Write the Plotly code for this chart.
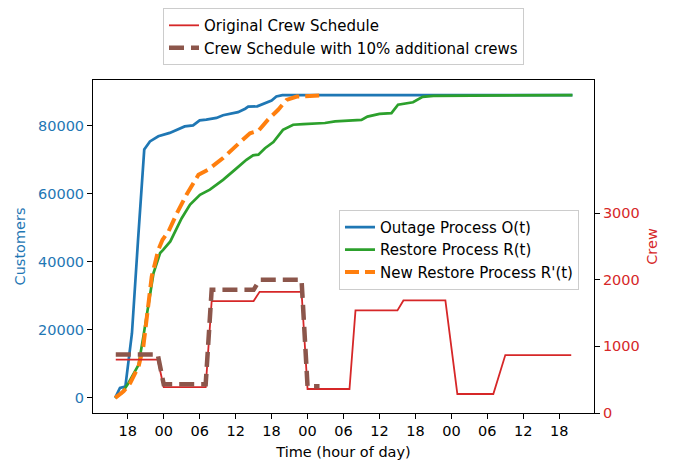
import pandas as pd
import plotly.graph_objects as go

BASE = pd.Timestamp("2021-08-29 18:00")

# hours relative to the first 18:00 tick
outage_h = [-2.1, -1.3, -0.4, 0.7, 1.7, 2.75, 3.7, 5.1, 7.0, 9.5, 10.9, 12.0, 13.1, 14.8, 15.9,
            16.8, 18.4, 19.6, 20.1, 21.6, 22.9, 24.0, 24.8, 25.8, 74.2]
outage_v = [0, 2900, 3300, 19000, 46000, 73000, 75400, 76900, 77900, 79800, 80100, 81600, 81800,
            82300, 83100, 83400, 84000, 85000, 85600, 85700, 86500, 87400, 88600, 89000, 89000]

restore_h = [-2.1, -1.0, 0.1, 1.8, 2.6, 3.4, 4.3, 5.4, 5.9, 7.1, 9.0, 10.4, 12.05, 13.7, 15.9,
             17.9, 19.8, 20.9, 21.8, 22.9, 24.3, 25.9, 27.6, 29.3, 32.9, 34.6, 39.0, 40.0, 42.0,
             44.0, 45.1, 47.6, 49.2, 51.0, 74.2]
restore_v = [0, 1400, 4300, 9700, 18000, 26900, 36700, 42600, 43500, 46000, 52800, 56800, 59700,
             61200, 64100, 67100, 70000, 71300, 71500, 73400, 75200, 78800, 80300, 80500, 80800,
             81300, 81700, 82700, 83500, 83700, 86200, 86900, 88500, 88800, 89000]

new_restore_h = [-2.1, -0.7, 0.4, 1.8, 2.6, 3.2, 4.0, 5.1, 5.8, 6.8, 8.2, 9.8, 11.8, 13.4, 15.9,
                 18.4, 20.4, 21.8, 23.4, 25.1, 26.5, 28.2, 32.3]
new_restore_v = [0, 1900, 4300, 9200, 15100, 24900, 35700, 43500, 46500, 48900, 54300, 59700,
                 65600, 67100, 70500, 74600, 77800, 78500, 81800, 84700, 87600, 88600, 88900]

crew_h = [-2, 5, 6, 13, 14, 21, 22, 29, 30, 37, 38, 45, 46, 53, 55, 61, 63, 74]
crew_v = [800, 800, 390, 390, 1680, 1680, 1820, 1820, 360, 360, 1540, 1540, 1690, 1690, 285, 285,
          870, 870]

crew10_h = [-2, 5, 6, 13, 14, 21, 22, 29, 30, 32]
crew10_v = [880, 880, 430, 430, 1850, 1850, 2000, 2000, 400, 400]

customer_ticks = [0, 20000, 40000, 60000, 80000]
crew_ticks = [0, 1000, 2000, 3000]

BLUE, GREEN, ORANGE, RED, BROWN = "#1f77b4", "#2ca02c", "#ff7f0e", "#d62728", "#8c564b"
FONT = "DejaVu Sans"
FS = 14.5
LFS = 15

# the page body adds an 8px offset, so the figure is 8px smaller and margins compensate
OFF = 8


def to_time(hours):
    return [BASE + pd.Timedelta(hours=h) for h in hours]


fig = go.Figure()
fig.add_trace(go.Scatter(x=to_time(outage_h), y=outage_v, mode="lines",
                         name="Outage Process O(t)", line=dict(color=BLUE, width=2.7),
                         legend="legend2"))
fig.add_trace(go.Scatter(x=to_time(restore_h), y=restore_v, mode="lines",
                         name="Restore Process R(t)", line=dict(color=GREEN, width=2.7),
                         legend="legend2"))
fig.add_trace(go.Scatter(x=to_time(new_restore_h), y=new_restore_v, mode="lines",
                         name="New Restore Process R'(t)",
                         line=dict(color=ORANGE, width=4, dash="14px,6px"),
                         legend="legend2"))
fig.add_trace(go.Scatter(x=to_time(crew_h), y=crew_v, mode="lines", yaxis="y2",
                         name="Original Crew Schedule", line=dict(color=RED, width=1.8),
                         legend="legend"))
fig.add_trace(go.Scatter(x=to_time(crew10_h), y=crew10_v, mode="lines", yaxis="y2",
                         name="Crew Schedule with 10% additional crews",
                         line=dict(color=BROWN, width=4.5, dash="15px,7px"),
                         legend="legend"))

axis_common = dict(showgrid=False, zeroline=False, showline=True, linecolor="black",
                   linewidth=1, ticks="outside", ticklen=5, tickwidth=1, tickcolor="black",
                   automargin=False)

fig.update_layout(
    width=677 - OFF, height=462 - OFF,
    margin=dict(l=93 - OFF, r=83, t=80 - OFF, b=49, autoexpand=False),
    paper_bgcolor="white", plot_bgcolor="white",
    font=dict(family=FONT, size=FS, color="black"),
    xaxis=dict(**axis_common, mirror=True, type="date",
               range=[BASE + pd.Timedelta(hours=-5.8), BASE + pd.Timedelta(hours=77.8)],
               tick0=BASE, dtick=6 * 3600 * 1000, tickformat="%H",
               title=dict(text="Time (hour of day)", standoff=8, font=dict(size=FS))),
    yaxis=dict(**axis_common, range=[-4450, 93450],
               tickvals=customer_ticks, tickformat="d", tickfont=dict(color=BLUE),
               title=dict(text="Customers", font=dict(color=BLUE, size=FS), standoff=8)),
    yaxis2=dict(**axis_common, overlaying="y", side="right", range=[0, 5000],
                tickvals=crew_ticks, tickformat="d", tickfont=dict(color=RED),
                title=dict(text="Crew", font=dict(color=RED, size=FS), standoff=8)),
    legend=dict(x=0.5, xanchor="center", y=1.216, yanchor="top",
                bgcolor="white", bordercolor="#cccccc", borderwidth=1,
                font=dict(size=LFS), tracegroupgap=0),
    legend2=dict(x=0.491, xanchor="left", y=0.61, yanchor="top",
                 bgcolor="white", bordercolor="#cccccc", borderwidth=1,
                 font=dict(size=LFS)),
)

fig.write_html("out.html")
